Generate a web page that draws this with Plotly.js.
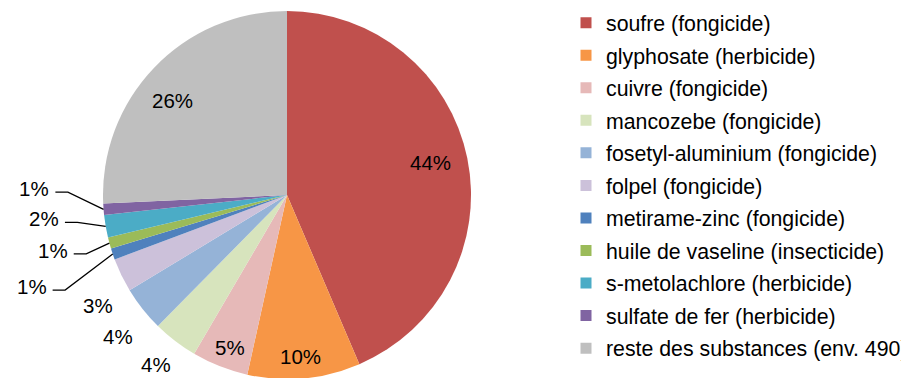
<!DOCTYPE html>
<html>
<head>
<meta charset="utf-8">
<script src="https://cdn.plot.ly/plotly-3.0.1.min.js"></script>
<style>
  html, body { margin: 0; padding: 0; overflow: hidden; background: #fff; }
  #chart { width: 901px; height: 400px; }
</style>
</head>
<body>
<div id="chart"></div>
<script>
// Substances actives : part des quantités vendues (%)
const substances = [
  "soufre (fongicide)",
  "glyphosate (herbicide)",
  "cuivre (fongicide)",
  "mancozebe (fongicide)",
  "fosetyl-aluminium (fongicide)",
  "folpel (fongicide)",
  "metirame-zinc (fongicide)",
  "huile de vaseline (insecticide)",
  "s-metolachlore (herbicide)",
  "sulfate de fer (herbicide)",
  "reste des substances (env. 490)"
];
const parts = [44, 10, 5, 4, 4, 3, 1, 1, 2, 1, 26];
const colors = [
  "#C0504D", "#F79646", "#E6B9B8", "#D7E4BD", "#95B3D7", "#CCC1DA",
  "#4F81BD", "#9BBB59", "#4BACC6", "#8064A2", "#BFBFBF"
];

// Label placement around each slice: distance from the centre (as a fraction
// of the radius), a small angular nudge (degrees) and whether a leader line
// joins the label to its slice.
const labelRadius = [0.797, 0.882, 0.885, 1.164, 1.2, 1.191, 1.475, 1.309, 1.328, 1.374, 0.807];
const labelNudge  = [-1.2, 0.75, -0.9, 0.3, -1.6, -4.4, -1.0, 1.85, 4.2, 5.9, -4.3];
const hasLeader   = [false, false, false, false, false, false, true, true, true, true, false];

const W = 901, H = 400;          // drawing area (bottom edge runs past the window)
const CX = 287, CY = 195, R = 184; // pie centre and radius, in pixels
const font = "Liberation Sans, Arial, sans-serif";
const labelSize = 20.5;
const legendSize = 21.3;

const pie = {
  type: "pie",
  labels: substances,
  values: parts,
  sort: false,
  direction: "clockwise",
  rotation: 0,
  marker: { colors: colors, line: { width: 0 } },
  textinfo: "none",
  showlegend: false,
  hoverinfo: "label+value",
  domain: { x: [(CX - R) / W, (CX + R) / W], y: [1 - (CY + R) / H, 1 - (CY - R) / H] }
};

// Legend entries: one per substance, in its slice colour
const legendTraces = substances.map((name, i) => ({
  type: "scatter",
  x: [null], y: [null],
  mode: "markers",
  name: name,
  legendgroup: "g" + i,
  marker: { symbol: "square", size: 11, color: colors[i] },
  hoverinfo: "skip"
}));

// Percentage labels and leader lines, positioned from each slice's mid-angle
const total = parts.reduce((a, b) => a + b, 0);
const ctx = document.createElement("canvas").getContext("2d");
ctx.font = labelSize + "px Liberation Sans";
const annotations = [];
const shapes = [];
let cum = 0;
parts.forEach((v, i) => {
  const mid = (cum + v / 2) / total * 360;
  cum += v;
  const a = (mid + labelNudge[i]) * Math.PI / 180;
  const lx = CX + labelRadius[i] * R * Math.sin(a);
  const ly = CY - labelRadius[i] * R * Math.cos(a);
  const txt = v + "%";
  annotations.push({
    x: lx, y: ly, xref: "x", yref: "y",
    text: txt, showarrow: false,
    xanchor: "center", yanchor: "middle",
    font: { family: font, size: labelSize, color: "#000" }
  });
  if (hasLeader[i]) {
    const m = mid * Math.PI / 180;
    const ex = CX + R * Math.sin(m);
    const ey = CY - R * Math.cos(m);
    const sx = lx + ctx.measureText(txt).width / 2 + 6.3;
    const sy = ly + 3.5;
    shapes.push({
      type: "path", xref: "x", yref: "y",
      path: "M" + sx + "," + sy + " L" + (sx + 12.5) + "," + sy + " L" + ex + "," + ey,
      line: { color: "#000", width: 1.3 }
    });
  }
});

const layout = {
  width: W,
  height: H,
  margin: { l: 0, r: 0, t: 0, b: 0, autoexpand: false },
  paper_bgcolor: "#fff",
  plot_bgcolor: "rgba(0,0,0,0)",
  font: { family: font, size: legendSize, color: "#000" },
  xaxis: { visible: false, range: [0, W], fixedrange: true },
  yaxis: { visible: false, range: [H, 0], fixedrange: true },
  annotations: annotations,
  shapes: shapes,
  showlegend: true,
  legend: {
    x: 566 / W, xanchor: "left",
    y: 1 - 2.3 / H, yanchor: "top",
    font: { family: font, size: legendSize, color: "#000" },
    tracegroupgap: 1.86,
    traceorder: "grouped",
    bgcolor: "rgba(0,0,0,0)",
    borderwidth: 0
  }
};

Plotly.newPlot("chart", [pie].concat(legendTraces), layout, { displayModeBar: false, staticPlot: true });
</script>
</body>
</html>
